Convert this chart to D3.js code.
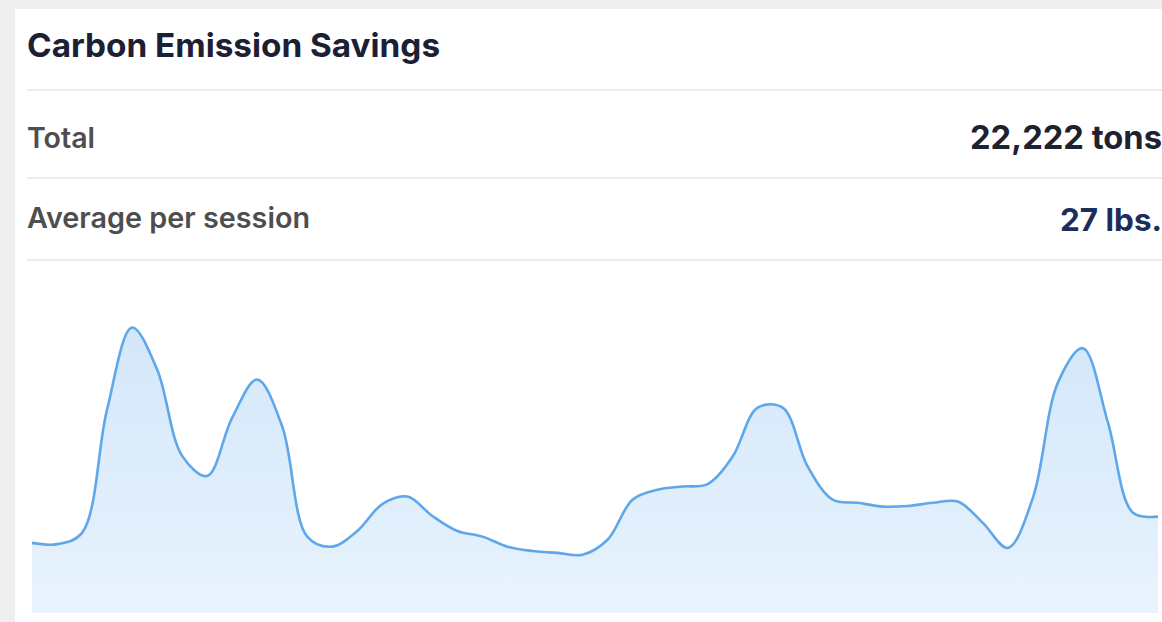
<!DOCTYPE html>
<html>
<head>
<meta charset="utf-8">
<script src="https://cdn.jsdelivr.net/npm/d3@7"></script>
<style>
  html, body { margin: 0; padding: 0; background: #efefef; overflow: hidden; }
  svg { display: block; font-family: Inter, "Noto Sans", sans-serif; }
</style>
</head>
<body>
<div id="graph"></div>
<script>
// Summary rows
const title = 'Carbon Emission Savings';
const rowLabels = ['Total', 'Average per session'];
const rowValues = ['22,222 tons', '27 lbs.'];

// Savings per session (lbs)
const sessions = [
  1, 2, 3, 4, 5, 6, 7, 8, 9, 10, 11, 12, 13, 14, 15, 16, 17, 18, 19, 20, 21, 22, 23,
  24, 25, 26, 27, 28, 29, 30, 31, 32, 33, 34, 35, 36, 37, 38, 39, 40, 41, 42, 43, 44, 45, 46
];
const savings = [
  11.2, 11.0, 12.8, 32.5, 45.6, 38.9, 25.1, 21.9, 31.2, 37.3, 29.8, 12.2, 10.6, 13.1, 17.4, 18.6,
  15.5, 13.1, 12.2, 10.6, 9.9, 9.6, 9.3, 11.7, 18.1, 19.7, 20.2, 20.6, 25.0, 32.8, 32.8, 23.4,
  18.1, 17.6, 17.0, 17.1, 17.6, 17.8, 14.4, 10.4, 18.4, 36.8, 42.3, 30.4, 16.0, 15.4
];

const width = 1162;
const height = 622;

const svg = d3.select('#graph').append('svg')
  .attr('width', width)
  .attr('height', height);

// card
svg.append('rect')
  .attr('x', 15).attr('y', 9)
  .attr('width', width).attr('height', height)
  .attr('fill', '#ffffff');

// shrink/grow a text node until it spans the wanted width
function fitWidth(sel, target) {
  const node = sel.node();
  let size = parseFloat(sel.attr('font-size'));
  for (let i = 0; i < 4; i++) {
    const w = node.getComputedTextLength();
    size = size * target / w;
    sel.attr('font-size', size);
  }
}

const titleText = svg.append('text')
  .attr('x', 27).attr('y', 57)
  .attr('font-size', 31)
  .attr('font-weight', 700)
  .attr('fill', '#1b2034')
  .text(title);
fitWidth(titleText, 413);

// separators
const sepY = [90, 178, 260];
svg.selectAll('.sep')
  .data(sepY)
  .enter().append('line')
  .attr('class', 'sep')
  .attr('x1', 27).attr('x2', width)
  .attr('y1', d => d).attr('y2', d => d)
  .attr('stroke', '#e6e6e6')
  .attr('stroke-width', 1.5);

const rowBase = [148, 228];
const labelWidths = [68, 283];
const valueColors = ['#1d2130', '#1c2d5a'];

rowLabels.forEach((label, i) => {
  const t = svg.append('text')
    .attr('x', 27).attr('y', rowBase[i])
    .attr('font-size', 24)
    .attr('font-weight', 600)
    .attr('fill', '#4e4e4e')
    .text(label);
  fitWidth(t, labelWidths[i]);
});

const valueStarts = [970, 1060];
rowValues.forEach((v, i) => {
  const t = svg.append('text')
    .attr('x', 1162).attr('y', rowBase[i] + (i === 1 ? 3 : 1))
    .attr('text-anchor', 'end')
    .attr('font-size', 31)
    .attr('font-weight', 700)
    .attr('fill', valueColors[i])
    .text(v);
  fitWidth(t, 1162 - valueStarts[i]);
});

// chart
const xScale = d3.scalePoint()
  .domain(sessions)
  .range([32, 1158]);

const yScale = d3.scaleLinear()
  .domain([0, 50])
  .range([613, 300]);

const defs = svg.append('defs');
const grad = defs.append('linearGradient')
  .attr('id', 'fillGrad')
  .attr('gradientUnits', 'userSpaceOnUse')
  .attr('x1', 0).attr('x2', 0)
  .attr('y1', yScale(46)).attr('y2', yScale(0));
grad.append('stop').attr('offset', '0%').attr('stop-color', '#d3e7fa');
grad.append('stop').attr('offset', '100%').attr('stop-color', '#e8f3fd');

const pts = sessions.map((s, i) => ({ s, v: savings[i] }));
const curve = d3.curveCatmullRom.alpha(0.5);

const area = d3.area()
  .x(d => xScale(d.s))
  .y0(yScale(0))
  .y1(d => yScale(d.v))
  .curve(curve);

const line = d3.line()
  .x(d => xScale(d.s))
  .y(d => yScale(d.v))
  .curve(curve);

svg.append('path')
  .datum(pts)
  .attr('d', area)
  .attr('fill', 'url(#fillGrad)');

svg.append('path')
  .datum(pts)
  .attr('d', line)
  .attr('fill', 'none')
  .attr('stroke', '#5ea7ea')
  .attr('stroke-width', 2.6)
  .attr('stroke-linejoin', 'round');
</script>
</body>
</html>
